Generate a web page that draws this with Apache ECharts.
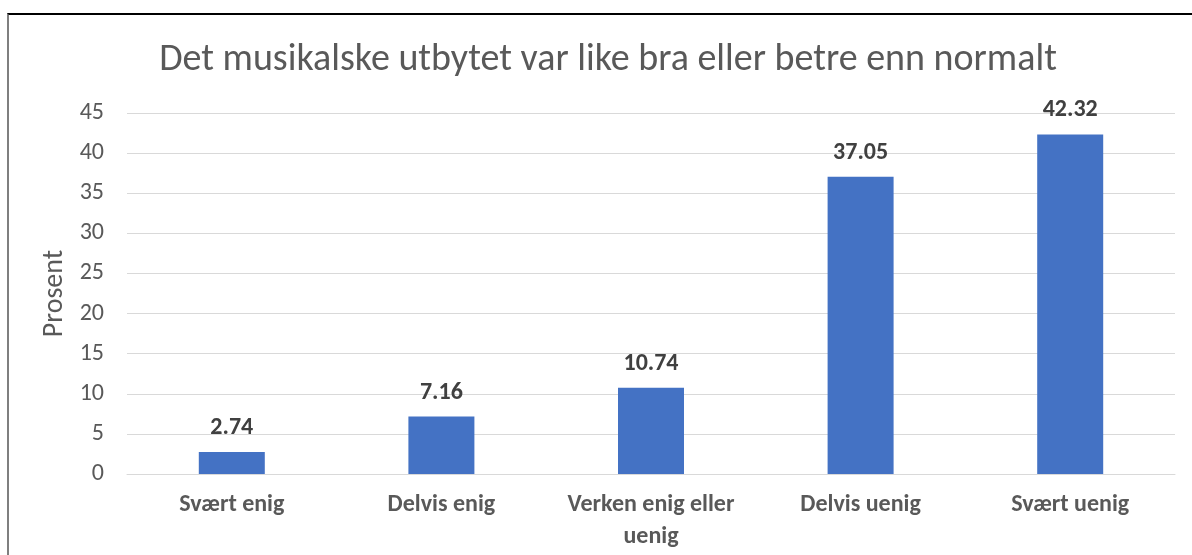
<!DOCTYPE html>
<html>
<head>
<meta charset="utf-8">
<script src="https://cdn.jsdelivr.net/npm/echarts@6/dist/echarts.min.js"></script>
<style>
  html, body { margin: 0; padding: 0; background: #fff; }
  #frame { position: absolute; left: 7px; top: 13px; width: 1185px; height: 542px;
    border-top: 2px solid #000; border-left: 2px solid #7f7f7f; box-sizing: border-box; }
  #chart { position: absolute; left: 0; top: 0; width: 1192px; height: 555px; }
</style>
</head>
<body>
<div id="frame"></div>
<div id="chart"></div>
<script>
const titleText = 'Det musikalske utbytet var like bra eller betre enn normalt'
const categories = ['Svært enig', 'Delvis enig', 'Verken enig eller\nuenig', 'Delvis uenig', 'Svært uenig']
const values = [2.74, 7.16, 10.74, 37.05, 42.32]
const axisName = 'Prosent'

const font = 'Calibri, Carlito, "Open Sans", sans-serif'
const chart = echarts.init(document.getElementById('chart'))

chart.setOption({
  animation: false,
  title: {
    text: titleText,
    left: 603,
    top: 36,
    textAlign: 'center',
    textStyle: { color: '#595959', fontSize: 38, fontWeight: 'normal', fontFamily: font }
  },
  grid: { left: 127, right: 17, top: 113, bottom: 81, containLabel: false },
  xAxis: {
    type: 'category',
    data: categories,
    axisLine: { lineStyle: { color: '#d9d9d9' } },
    axisTick: { show: false },
    axisLabel: {
      color: '#595959', fontSize: 24, fontWeight: 'bold', fontFamily: font,
      lineHeight: 32, margin: 15, interval: 0
    }
  },
  yAxis: {
    type: 'value',
    min: 0,
    max: 45,
    interval: 5,
    name: axisName,
    nameLocation: 'middle',
    nameGap: 56,
    nameRotate: 90,
    nameTextStyle: { color: '#595959', fontSize: 28, fontFamily: font },
    axisLine: { show: false },
    axisTick: { show: false },
    axisLabel: { color: '#595959', fontSize: 24, fontFamily: font, margin: 23 },
    splitLine: { lineStyle: { color: '#d9d9d9' } }
  },
  series: [{
    type: 'bar',
    data: values,
    barWidth: 66,
    itemStyle: { color: '#4472c4' },
    label: {
      show: true,
      position: 'top',
      distance: 12,
      color: '#404040',
      fontSize: 24,
      fontWeight: 'bold',
      fontFamily: font,
      formatter: p => p.value.toFixed(2)
    }
  }]
})
</script>
</body>
</html>
